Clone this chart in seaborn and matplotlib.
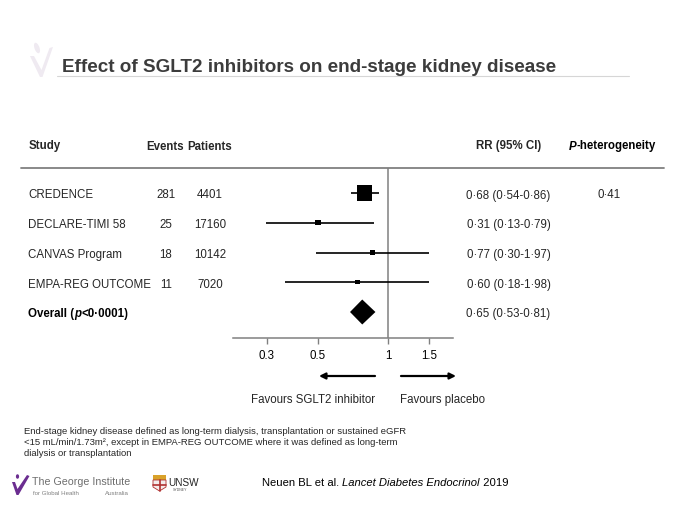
import numpy as np
import pandas as pd
import matplotlib
matplotlib.use("Agg")
import matplotlib.pyplot as plt
from matplotlib.patches import Polygon, Ellipse, Rectangle
from matplotlib.ticker import NullLocator
import seaborn as sns

# ---------------- data ----------------
studies = ["CREDENCE", "DECLARE-TIMI 58", "CANVAS Program", "EMPA-REG OUTCOME"]
events = [281, 25, 18, 11]
patients = [4401, 17160, 10142, 7020]
rr = [0.68, 0.31, 0.77, 0.60]
ci_low = [0.54, 0.13, 0.30, 0.18]
ci_high = [0.86, 0.79, 1.97, 1.98]
overall_rr = 0.65
overall_low = 0.53
overall_high = 0.81
overall_p = "0·0001"
p_heterogeneity = "0·41"
tick_values = [0.132, 0.31, 1.0, 1.98]
tick_labels = ["0.3", "0.5", "1", "1.5"]

title = "Effect of SGLT2 inhibitors on end-stage kidney disease"
footnote = [
    "End-stage kidney disease defined as long-term dialysis, transplantation or sustained eGFR",
    "<15 mL/min/1.73m², except in EMPA-REG OUTCOME where it was defined as long-term",
    "dialysis or transplantation",
]

def fmt(v):
    return f"{v:.2f}".replace(".", "·")

df = pd.DataFrame({
    "study": studies, "events": events, "patients": patients,
    "rr": rr, "lo": ci_low, "hi": ci_high,
})
df["row"] = np.arange(len(df))
overall_row = len(df)

# ---------------- style ----------------
sns.set_theme(style="white")
plt.rcParams["font.family"] = ["Liberation Sans", "DejaVu Sans"]

W, H = 680, 506
fig = plt.figure(figsize=(W / 100, H / 100), dpi=100)
fig.patch.set_facecolor("white")

def fx(x):
    return x / W

def fy(y):
    return 1 - y / H

# decoration overlay (pixel coords, top-left origin)
deco = fig.add_axes([0, 0, 1, 1], zorder=0)
deco.set_xlim(0, W)
deco.set_ylim(H, 0)
deco.axis("off")
deco.patch.set_alpha(0)

# forest axes
ax_left, ax_right, ax_top, ax_bot = 233.3, 452.7, 169, 339
ax = fig.add_axes([fx(ax_left), fy(ax_bot), (ax_right - ax_left) / W, (ax_bot - ax_top) / H], zorder=2)
ax.patch.set_alpha(0)
row_gap = 29.75
ax.set_ylim(overall_row + 26 / row_gap, -25 / row_gap)
ax.set_xscale("log")
ax.set_xlim(0.0756, 2.94)

ax.axvline(1, color="#808080", lw=1.1, zorder=1)
ax.hlines(df["row"], df["lo"], df["hi"], color="black", lw=1.2, zorder=2)
sns.scatterplot(data=df, x="rr", y="row", size="events", sizes=(9, 117), marker="s",
                color="black", linewidth=0, legend=False, ax=ax, zorder=3)
dh = 0.42
ax.fill([overall_low, overall_rr, overall_high, overall_rr],
        [overall_row, overall_row - dh, overall_row, overall_row + dh],
        color="black", lw=0, zorder=3)

ax.set_xticks(tick_values)
ax.set_xticklabels(tick_labels)
ax.xaxis.set_minor_locator(NullLocator())
ax.set_yticks([])
ax.set_xlabel("")
ax.set_ylabel("")
ax.tick_params(axis="x", direction="out", length=4, width=1, color="#808080",
               labelsize=8.3, pad=4, labelcolor="black", bottom=True)
for s in ["top", "left", "right"]:
    ax.spines[s].set_visible(False)
ax.spines["bottom"].set_color("#808080")
ax.spines["bottom"].set_linewidth(1.1)

renderer = fig.canvas.get_renderer()

def text_width(s, **kw):
    t1 = fig.text(0, 0, "x" + s + "x", **kw)
    t2 = fig.text(0, 0, "xx", **kw)
    w = t1.get_window_extent(renderer).width - t2.get_window_extent(renderer).width
    t1.remove(); t2.remove()
    return w

def rich(x, y, pieces, ha="left", size=8.3, color="black"):
    kws = []
    for s, w, st in pieces:
        kws.append(dict(fontsize=size, fontweight=w, fontstyle=st, color=color))
    widths = [text_width(s, **k) for (s, _, _), k in zip(pieces, kws)]
    total = sum(widths)
    x0 = x if ha == "left" else (x - total / 2 if ha == "center" else x - total)
    for (s, _, _), k, wd in zip(pieces, kws, widths):
        fig.text(fx(x0), fy(y), s, ha="left", va="center_baseline", **k)
        x0 += wd

def row_y(r):
    return H - ax.transData.transform((1.0, r))[1]

# ---------------- title ----------------
fig.text(fx(62), fy(65), title, fontsize=13.6, fontweight="bold", color="#3c3c3c",
         ha="left", va="center_baseline")
deco.plot([57, 629], [77, 77], color="#d6d6d6", lw=0.8)

# top-left faint logo
deco.add_patch(Polygon([(30, 57), (34, 57), (41.5, 71), (49.5, 49), (53, 48), (42.5, 78), (40, 78)],
                       closed=True, color="#efeaf1", lw=0))
deco.add_patch(Ellipse((37, 49), 5, 11, angle=-20, color="#efeaf1", lw=0))

# ---------------- header ----------------
hy = 145
fig.text(fx(29), fy(hy), "Study", fontsize=8.3, fontweight="bold", ha="left", va="center_baseline")
fig.text(fx(165.5), fy(hy), "Events", fontsize=8.3, fontweight="bold", ha="center", va="center_baseline")
fig.text(fx(209.5), fy(hy), "Patients", fontsize=8.3, fontweight="bold", ha="center", va="center_baseline")
fig.text(fx(508.5), fy(hy), "RR (95% CI)", fontsize=8.3, fontweight="bold", ha="center", va="center_baseline")
rich(612.5, hy, [("P", "bold", "italic"), ("-heterogeneity", "bold", "normal")], ha="center")
deco.plot([21, 664], [169, 169], color="#808080", lw=1.3)

# ---------------- rows ----------------
for _, r in df.iterrows():
    y = row_y(r["row"])
    fig.text(fx(28), fy(y), r["study"], fontsize=8.3, ha="left", va="center_baseline")
    fig.text(fx(166), fy(y), f"{r['events']}", fontsize=8.3, ha="center", va="center_baseline")
    fig.text(fx(210), fy(y), f"{r['patients']}", fontsize=8.3, ha="center", va="center_baseline")
    fig.text(fx(508.5), fy(y), f"{fmt(r['rr'])} ({fmt(r['lo'])}-{fmt(r['hi'])})", fontsize=8.3,
             ha="center", va="center_baseline")
fig.text(fx(609), fy(row_y(0)), p_heterogeneity, fontsize=8.3, ha="center", va="center_baseline")

oy = row_y(overall_row)
rich(28, oy, [("Overall (", "bold", "normal"), ("p", "bold", "italic"),
              (f"<{overall_p})", "bold", "normal")])
fig.text(fx(508.5), fy(oy), f"{fmt(overall_rr)} ({fmt(overall_low)}-{fmt(overall_high)})",
         fontsize=8.3, ha="center", va="center_baseline")

# ---------------- favours arrows ----------------
ay = 377
arrow_kw = dict(arrowstyle="-|>", color="black", lw=1.6, mutation_scale=9, shrinkA=0, shrinkB=0)
deco.annotate("", xy=(319, ay), xytext=(375, ay), arrowprops=arrow_kw)
deco.annotate("", xy=(456, ay), xytext=(401, ay), arrowprops=arrow_kw)
fig.text(fx(313.3), fy(399), "Favours SGLT2 inhibitor", fontsize=8.3, ha="center", va="center_baseline")
fig.text(fx(443), fy(399), "Favours placebo", fontsize=8.3, ha="center", va="center_baseline")

# ---------------- footnote ----------------
for i, line in enumerate(footnote):
    fig.text(fx(24), fy(431 + 11 * i), line, fontsize=6.8, ha="left", va="center_baseline")

# ---------------- logos ----------------
purple = "#6b2d90"
deco.add_patch(Polygon([(12, 483), (15, 483), (17.5, 490), (27, 476), (29.5, 477), (18.5, 496), (16.5, 496)],
                       closed=True, color=purple, lw=0))
deco.add_patch(Ellipse((17.5, 477.5), 3.2, 4.5, color=purple, lw=0))
fig.text(fx(32), fy(481), "The George Institute", fontsize=7.7, color="#6e6e6e", ha="left", va="center_baseline")
fig.text(fx(33), fy(493), "for Global Health", fontsize=4.4, color="#808080", ha="left", va="center_baseline")
fig.text(fx(105), fy(493), "Australia", fontsize=4.4, color="#808080", ha="left", va="center_baseline")

deco.add_patch(Rectangle((153, 476), 13, 5, color="#d9a22a", lw=0))
deco.add_patch(Polygon([(153, 481), (166, 481), (166, 488), (159.5, 492), (153, 488)],
                       closed=True, facecolor="#f4ecec", edgecolor="#b03030", lw=0.6))
deco.plot([159.5, 159.5], [481, 492], color="#b03030", lw=1.2)
deco.plot([153, 166], [485.5, 485.5], color="#b03030", lw=1.2)
fig.text(fx(168), fy(482), "UNSW", fontsize=7.2, color="#222222", ha="left", va="center_baseline")
fig.text(fx(173), fy(489.5), "SYDNEY", fontsize=2.5, color="#555555", ha="left", va="center_baseline")

# citation
rich(262, 482, [("Neuen BL et al. ", "normal", "normal"),
                ("Lancet Diabetes Endocrinol", "normal", "italic"),
                (" 2019", "normal", "normal")], size=8.15)

fig.savefig("out.png", dpi=100, facecolor="white")
